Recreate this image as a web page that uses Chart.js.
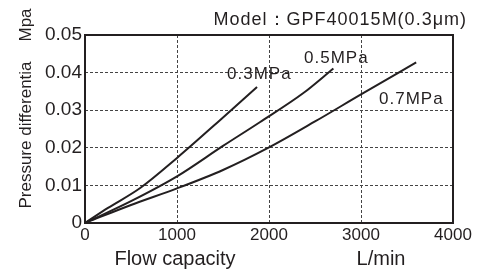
<!DOCTYPE html>
<html>
<head>
<meta charset="utf-8">
<script src="https://cdn.jsdelivr.net/npm/chart.js@4"></script>
<style>
  html, body { margin: 0; padding: 0; background: #fff; }
  #wrap { width: 491px; height: 275px; }
</style>
</head>
<body>
<div id="wrap"><canvas id="flowChart" width="491" height="275"></canvas></div>
<script>
// flow (L/min) vs pressure drop (MPa)
const flow03 = [0, 250, 600, 1000, 1470, 1870];
const drop03 = [0, 0.0040, 0.0093, 0.0173, 0.0274, 0.0362];
const flow05 = [0, 500, 1000, 1500, 1900, 2370, 2700];
const drop05 = [0, 0.0058, 0.0124, 0.0205, 0.0268, 0.0345, 0.0411];
const flow07 = [0, 500, 1000, 1500, 2000, 2500, 3000, 3600];
const drop07 = [0, 0.0048, 0.0092, 0.0141, 0.0201, 0.0270, 0.0342, 0.0427];
const seriesNames = ['0.3MPa', '0.5MPa', '0.7MPa'];
const xTicks = [0, 1000, 2000, 3000, 4000];
const yTicks = [0, 0.01, 0.02, 0.03, 0.04, 0.05];

const FONT = 'Liberation Sans, Arial, sans-serif';
const INK = '#231f20';

function toPoints(xs, ys) {
  return xs.map((x, i) => ({ x: x, y: ys[i] }));
}

// labels, frame and axis titles drawn on top
const decor = {
  id: 'decor',
  afterDatasetsDraw(chart) {
    const ctx = chart.ctx;
    const a = chart.chartArea;
    ctx.save();
    ctx.strokeStyle = INK;
    ctx.lineWidth = 2;
    ctx.strokeRect(a.left, a.top, a.right - a.left, a.bottom - a.top);

    ctx.fillStyle = INK;
    ctx.textBaseline = 'middle';
    ctx.textAlign = 'left';
    ctx.font = '17px ' + FONT;
    ctx.letterSpacing = '1px';
    ctx.fillText(seriesNames[0], 227, 74);
    ctx.fillText(seriesNames[1], 304, 58);
    ctx.fillText(seriesNames[2], 379, 99);

    ctx.textAlign = 'right';
    ctx.font = '18px ' + FONT;
    ctx.fillText('Model\uff1aGPF40015M(0.3\u03bcm)', 467, 20);

    ctx.letterSpacing = '0px';
    ctx.textAlign = 'center';
    ctx.font = '20px ' + FONT;
    ctx.fillText('Flow capacity', 175, 259);
    ctx.fillText('L/min', 381, 259);

    ctx.font = '17px ' + FONT;
    ctx.translate(26, 0);
    ctx.rotate(-Math.PI / 2);
    ctx.fillText('Pressure differentia', -135, 0);
    ctx.fillText('Mpa', -25, 0);
    ctx.restore();
  }
};

const ctx = document.getElementById('flowChart').getContext('2d');
new Chart(ctx, {
  type: 'line',
  data: {
    datasets: [
      { label: seriesNames[0], data: toPoints(flow03, drop03) },
      { label: seriesNames[1], data: toPoints(flow05, drop05) },
      { label: seriesNames[2], data: toPoints(flow07, drop07) }
    ].map(d => Object.assign(d, {
      borderColor: INK,
      borderWidth: 2,
      pointRadius: 0,
      fill: false,
      tension: 0.2,
      cubicInterpolationMode: 'monotone'
    }))
  },
  options: {
    responsive: false,
    animation: false,
    layout: { padding: { left: 0, top: 35, right: 38, bottom: 0 } },
    plugins: { legend: { display: false }, tooltip: { enabled: false } },
    scales: {
      x: {
        type: 'linear',
        min: 0, max: 4000,
        afterBuildTicks: s => { s.ticks = xTicks.map(v => ({ value: v })); },
        afterFit: s => { s.height = 52; },
        grid: { color: '#444', lineWidth: 1, drawTicks: false },
        border: { display: false, dash: [3, 2] },
        ticks: { color: INK, font: { family: FONT, size: 17 }, padding: 2, maxRotation: 0,
          callback: v => String(v) }
      },
      y: {
        type: 'linear',
        min: 0, max: 0.05,
        afterBuildTicks: s => { s.ticks = yTicks.map(v => ({ value: v })); },
        afterFit: s => { s.width = 85; },
        grid: { color: '#444', lineWidth: 1, drawTicks: false },
        border: { display: false, dash: [3, 2] },
        ticks: { color: INK, font: { family: FONT, size: 19 }, padding: 3,
          callback: v => v === 0 ? '0' : v.toFixed(2) }
      }
    }
  },
  plugins: [decor]
});
</script>
</body>
</html>
